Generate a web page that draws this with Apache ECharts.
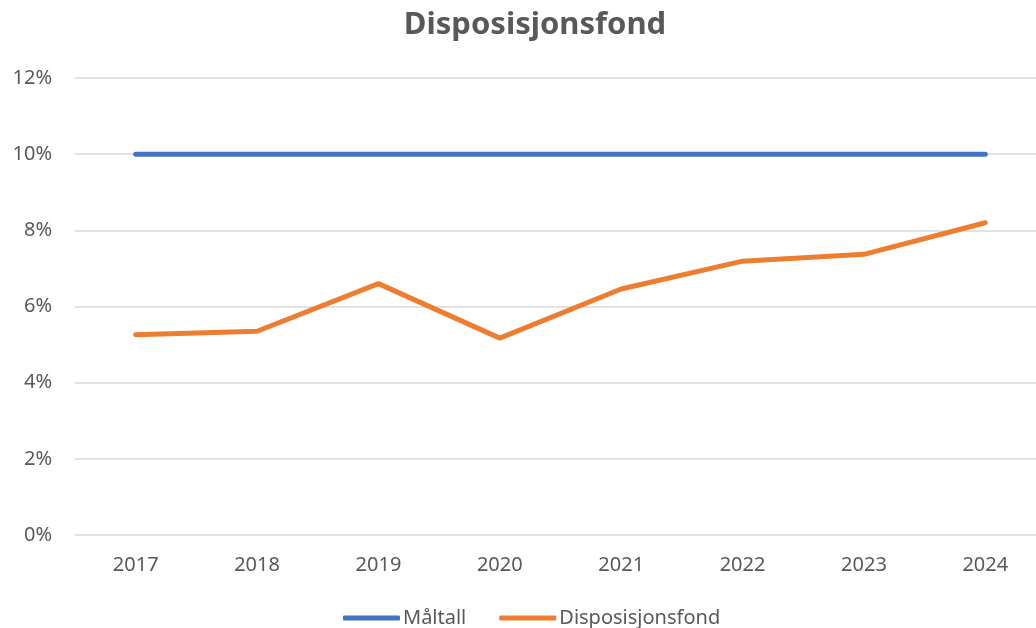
<!DOCTYPE html>
<html>
<head>
<meta charset="utf-8">
<script src="https://cdn.jsdelivr.net/npm/echarts@6/dist/echarts.min.js"></script>
<style>
  html, body { margin: 0; padding: 0; background: #fff; overflow: hidden; }
  #chart { width: 1046px; height: 628px; }
</style>
</head>
<body>
<div id="chart"></div>
<script>
var years = ['2017', '2018', '2019', '2020', '2021', '2022', '2023', '2024'];
var maltall = [10, 10, 10, 10, 10, 10, 10, 10];
var disposisjonsfond = [5.26, 5.35, 6.6, 5.17, 6.46, 7.19, 7.37, 8.2];
var yTicks = [0, 2, 4, 6, 8, 10, 12];

var FONT = '"Noto Sans", sans-serif';
var TEXT_COLOR = '#595959';

// chart is 10px wider than the window: the reference plot area runs past the right edge
var myChart = echarts.init(document.getElementById('chart'), null, { renderer: 'canvas' });

var option = {
    backgroundColor: '#ffffff',
    animation: false,
    title: {
        text: 'Disposisjonsfond',
        left: 530,
        top: 5,
        textAlign: 'center',
        textStyle: {
            fontFamily: FONT,
            fontSize: 31,
            fontWeight: 'bold',
            color: TEXT_COLOR
        }
    },
    legend: {
        left: 338,
        top: 603,
        itemWidth: 57,
        itemHeight: 5,
        itemGap: 33,
        icon: 'roundRect',
        textStyle: {
            fontFamily: FONT,
            fontSize: 20,
            color: TEXT_COLOR,
            padding: [0, 0, 0, -2]
        },
        data: ['Måltall', 'Disposisjonsfond']
    },
    grid: {
        left: 75,
        top: 78,
        right: 0,
        bottom: 93
    },
    xAxis: {
        type: 'category',
        data: years,
        boundaryGap: true,
        axisLine: { show: false },
        axisTick: { show: false },
        axisLabel: {
            margin: 20,
            fontFamily: FONT,
            fontSize: 20,
            color: TEXT_COLOR
        }
    },
    yAxis: {
        type: 'value',
        min: yTicks[0],
        max: yTicks[yTicks.length - 1],
        interval: 2,
        axisLine: { show: false },
        axisTick: { show: false },
        axisLabel: {
            margin: 23,
            fontFamily: FONT,
            fontSize: 20,
            color: TEXT_COLOR,
            formatter: '{value}%'
        },
        splitLine: {
            lineStyle: { color: '#d9d9d9', width: 1.5 }
        }
    },
    series: [
        {
            name: 'Måltall',
            type: 'line',
            data: maltall,
            symbol: 'none',
            lineStyle: { color: '#4472c4', width: 5, cap: 'round', join: 'round' },
            itemStyle: { color: '#4472c4' }
        },
        {
            name: 'Disposisjonsfond',
            type: 'line',
            data: disposisjonsfond,
            symbol: 'none',
            lineStyle: { color: '#ed7d31', width: 5, cap: 'round', join: 'round' },
            itemStyle: { color: '#ed7d31' }
        }
    ]
};

myChart.setOption(option);
</script>
</body>
</html>
